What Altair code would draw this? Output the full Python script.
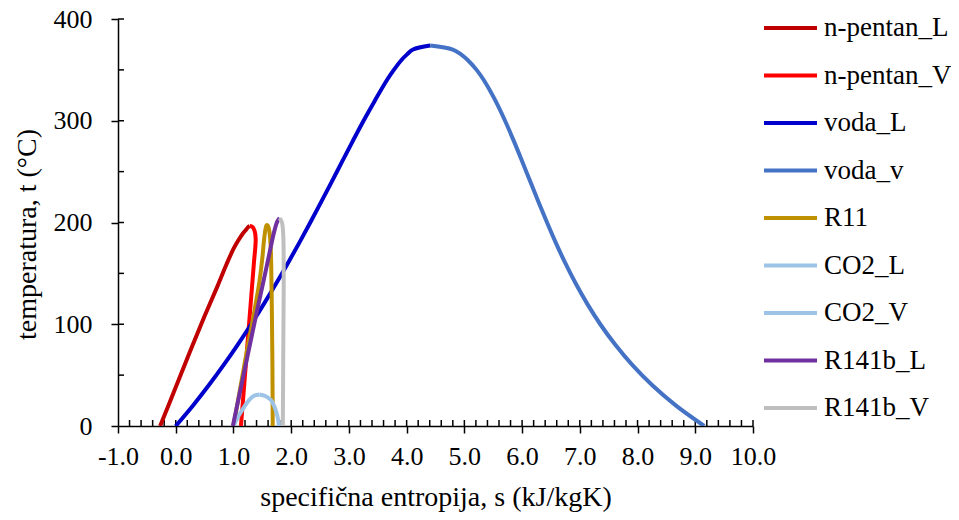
import altair as alt
import pandas as pd

series_names = ["n-pentan_L", "n-pentan_V", "voda_L", "voda_v", "R11",
                "CO2_L", "CO2_V", "R141b_L", "R141b_V"]
series_colors = ["#C00000", "#FF0000", "#0000CC", "#4472C4", "#BF9000",
                 "#9DC3E6", "#9DC3E6", "#7030A0", "#BFBFBF"]

pentan_L_s = [-0.27, 0.0, 0.26, 0.5, 0.72, 0.88, 1.0, 1.08, 1.16, 1.22, 1.26, 1.28]
pentan_L_t = [0, 38, 75, 108, 137, 159, 174, 182, 189, 193, 195.8, 196.5]
pentan_V_s = [1.28, 1.33, 1.365, 1.385, 1.354, 1.319, 1.263, 1.197, 1.13]
pentan_V_t = [196.5, 195.5, 192, 184, 160, 135, 95, 48, 0]

voda_L_t = [0.01, 20, 40, 60, 80, 100, 120, 140, 160, 180, 200, 220, 240, 260,
            280, 300, 320, 340, 350, 360, 365, 370, 373.95]
voda_L_s = [0.0, 0.2966, 0.5725, 0.8312, 1.0753, 1.3069, 1.5276, 1.7391, 1.9427,
            2.1395, 2.3308, 2.5178, 2.7015, 2.8837, 3.0668, 3.2540, 3.4516,
            3.6594, 3.7784, 3.9147, 4.0027, 4.1106, 4.4070]
voda_v_t = [373.95, 370, 365, 360, 350, 340, 320, 300, 280, 260, 240, 220, 200,
            180, 160, 140, 120, 100, 80, 60, 40, 20, 0.01]
voda_v_s = [4.4070, 4.7996, 4.9463, 5.0526, 5.2117, 5.3357, 5.5357, 5.7049,
            5.8578, 6.0019, 6.1434, 6.2861, 6.4322, 6.5850, 6.7491, 6.9293,
            7.1293, 7.3544, 7.6121, 7.9082, 8.2556, 8.6661, 9.1555]

R11_s = [1.0, 1.12, 1.24, 1.36, 1.45, 1.50, 1.53, 1.555, 1.575, 1.60, 1.625, 1.645, 1.655, 1.665, 1.675, 1.68]
R11_t = [0, 38, 76, 112, 142, 165, 183, 193.5, 197.5, 196.5, 190, 176, 155, 115, 60, 0]

CO2_L_s = [1.0, 1.09, 1.19, 1.27, 1.35, 1.45]
CO2_L_t = [0, 10, 19, 25.5, 29.5, 31]
CO2_V_s = [1.45, 1.55, 1.65, 1.71, 1.76, 1.79]
CO2_V_t = [31, 29.5, 25.5, 19, 10, 0]

R141b_L_s = [0.99, 1.1, 1.2, 1.3, 1.4, 1.5, 1.58, 1.65, 1.71, 1.76, 1.80]
R141b_L_t = [0, 30, 57, 84, 111, 137, 158, 177, 192, 201, 204.4]
R141b_V_s = [1.80, 1.84, 1.862, 1.87, 1.87, 1.865, 1.86, 1.855]
R141b_V_t = [204.4, 200, 188, 165, 130, 90, 45, 0]

x_major = [-1, 0, 1, 2, 3, 4, 5, 6, 7, 8, 9, 10]
y_major = [0, 100, 200, 300, 400]
x_minor = [round(-0.8 + 0.2 * i, 1) for i in range(55)]
y_minor = [50 * i for i in range(1, 9)]

all_series = [
    ("n-pentan_L", pentan_L_s, pentan_L_t),
    ("n-pentan_V", pentan_V_s, pentan_V_t),
    ("voda_L", voda_L_s, voda_L_t),
    ("voda_v", voda_v_s, voda_v_t),
    ("R11", R11_s, R11_t),
    ("CO2_L", CO2_L_s, CO2_L_t),
    ("CO2_V", CO2_V_s, CO2_V_t),
    ("R141b_L", R141b_L_s, R141b_L_t),
    ("R141b_V", R141b_V_s, R141b_V_t),
]
rows = []
for name, ss, ts in all_series:
    for i, (s, t) in enumerate(zip(ss, ts)):
        rows.append({"series": name, "s": s, "t": t, "idx": i})
df = pd.DataFrame(rows)

FONT = "Liberation Serif"
xscale = alt.Scale(domain=[-1, 10], nice=False, zero=False)
yscale = alt.Scale(domain=[0, 400], nice=False)

lines = alt.Chart(df).mark_line(strokeWidth=4, interpolate="catmull-rom", clip=True).encode(
    x=alt.X("s:Q", scale=xscale,
            axis=alt.Axis(values=x_major, title="specifična entropija, s (kJ/kgK)",
                          labelExpr="(datum.value < 0 ? '-' : '') + format(abs(datum.value), '.1f')",
                          labelOverlap=False, labelFlush=False, titleY=71, titleBaseline="middle")),
    y=alt.Y("t:Q", scale=yscale,
            axis=alt.Axis(values=y_major, title="temperatura, t (°C)", format="d",
                          labelOverlap=False, labelFlush=False, titleX=-91, titleY=215, titleAngle=270,
                          titleBaseline="middle", titleAlign="center")),
    color=alt.Color("series:N", sort=series_names,
                    scale=alt.Scale(domain=series_names, range=series_colors),
                    legend=alt.Legend(title=None, orient="none", legendX=644, legendY=-9,
                                      symbolType="stroke", symbolStrokeWidth=4,
                                      symbolSize=2809, labelFont=FONT, labelFontSize=27,
                                      labelColor="black", clipHeight=36, rowPadding=11.5,
                                      padding=0, labelOffset=5)),
    order="idx:Q",
)

xt_df = pd.DataFrame({"s": x_minor})
yt_df = pd.DataFrame({"t": y_minor})
xticks = alt.Chart(xt_df).mark_rule(color="black", strokeWidth=1.5).encode(
    x=alt.X("s:Q", scale=xscale), y=alt.value(407), y2=alt.value(401))
yticks = alt.Chart(yt_df).mark_rule(color="black", strokeWidth=1.5).encode(
    y=alt.Y("t:Q", scale=yscale), x=alt.value(0), x2=alt.value(6))

chart = alt.layer(xticks, yticks, lines).properties(
    width=635, height=407,
    autosize=alt.AutoSizeParams(type="none"),
    padding={"left": 110, "top": 11, "right": 198, "bottom": 86},
).configure_view(stroke=None).configure_axis(
    grid=False, domainColor="black", domainWidth=1.5, tickColor="black",
    tickWidth=1.5, tickSize=7, labelFont=FONT, labelFontSize=26, labelColor="black",
    titleFont=FONT, titleFontSize=28, titleFontWeight="normal", titleColor="black",
).configure_axisLeft(labelPadding=19).configure_axisBottom(labelPadding=10)

chart.save("out.html", embed_options={"renderer": "svg", "actions": False})
